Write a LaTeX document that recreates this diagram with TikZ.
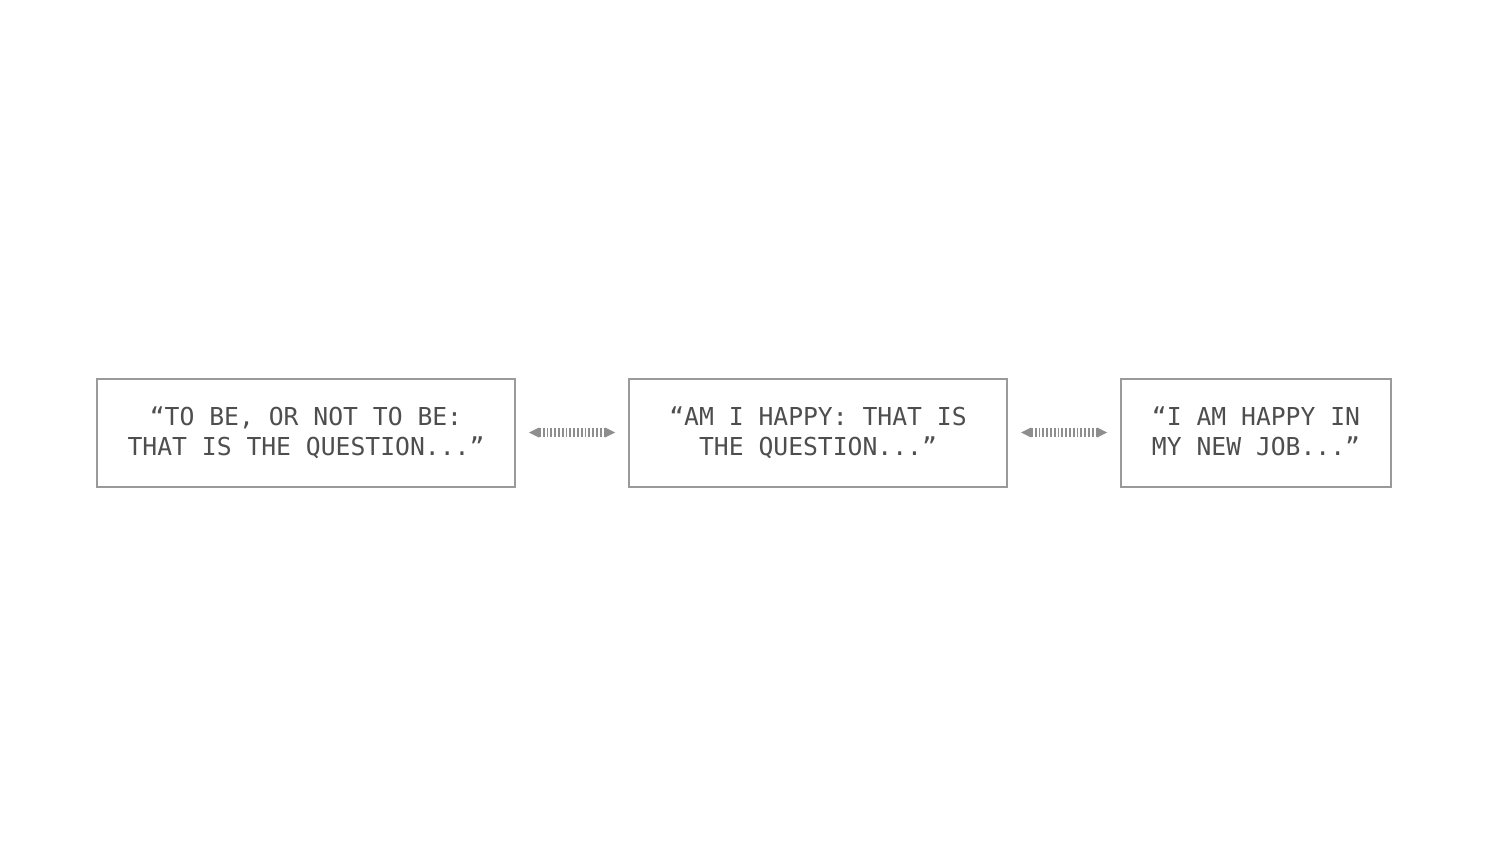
\documentclass[tikz,border=0pt]{standalone}
\usepackage{fontspec}
\newfontfamily\monofont{DejaVu Sans Mono}
\usetikzlibrary{arrows.meta}
\definecolor{boxline}{HTML}{9A9A9A}
\definecolor{txt}{HTML}{4E4E4E}
\definecolor{arr}{HTML}{8E8E8E}
\tikzset{
  quotebox/.style={draw=boxline, line width=2pt, minimum height=108pt, inner sep=0pt,
    text=txt, align=center, font=\monofont\fontsize{24.7}{30}\selectfont},
  conn/.style={draw=arr, line width=8.5pt, shorten <=13pt, shorten >=13pt,
    {Triangle[length=10pt,width=10pt,line width=0pt]}-{Triangle[length=10pt,width=10pt,line width=0pt]},
    dash pattern=on 1.8pt off 2pt}
}
\begin{document}
\begin{tikzpicture}[x=1pt,y=-1pt]
\useasboundingbox (0,0) rectangle (1488,864);
\node[quotebox, minimum width=418pt] (b1) at (306,432.5) {“TO BE, OR NOT TO BE:\\THAT IS THE QUESTION...”};
\node[quotebox, minimum width=378pt] (b2) at (818,432.5) {“AM I HAPPY: THAT IS\\THE QUESTION...”};
\node[quotebox, minimum width=270pt] (b3) at (1256,432.5) {“I AM HAPPY IN\\MY NEW JOB...\vphantom{Q}”};
\draw[conn] (b1.east) -- (b2.west);
\draw[conn] (b2.east) -- (b3.west);
\end{tikzpicture}
\end{document}
